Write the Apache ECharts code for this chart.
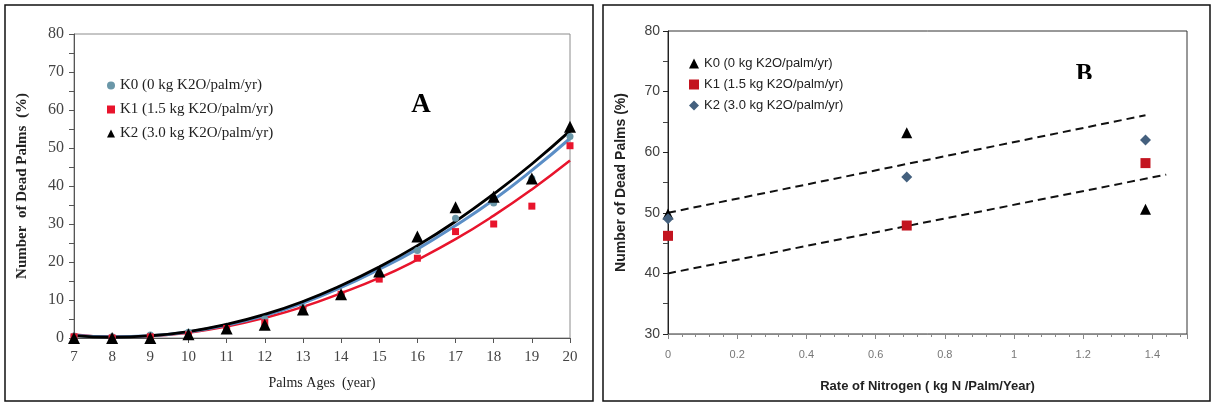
<!DOCTYPE html>
<html>
<head>
<meta charset="utf-8">
<script src="https://cdn.jsdelivr.net/npm/echarts@6/dist/echarts.min.js"></script>
<style>
  html, body { margin: 0; padding: 0; background: #fff; }
  #chart { width: 1215px; height: 407px; }
</style>
</head>
<body>
<div id="chart"></div>
<script>
// Panel A: palm ages vs dead palms (%)
var ages = [7, 8, 9, 10, 11, 12, 13, 14, 15, 16, 17, 18, 19, 20];
var k0A = [0.5, 0.3, 0.8, 1.5, 2.5, 5, 8, 11.5, 17, 23, 31.5, 35.5, 42, 53];
var k1A = [0.3, 0, 0.3, 0.8, 2.5, 4, 7.5, 11.5, 15.5, 21, 28, 30, 34.7, 50.6];
var k2A = [0, 0, 0, 1, 2.5, 3.5, 7.5, 11.5, 17.5, 26.7, 34.4, 37.2, 42, 55.6];
// trend curves at each age
var k0Curve = [0.7, 0.3, 0.6, 1.6, 3.4, 5.9, 9.2, 13.3, 18.1, 23.4, 29.6, 36.4, 44.1, 52.5];
var k1Curve = [0.9, 0.3, 0.5, 1.4, 3.0, 5.3, 8.2, 11.8, 15.8, 20.6, 26.0, 32.2, 39.1, 46.7];
var k2Curve = [0.6, 0.2, 0.6, 1.7, 3.6, 6.2, 9.6, 13.8, 18.7, 24.3, 30.7, 37.9, 45.8, 54.5];

// Panel B: rate of nitrogen vs dead palms (%)
var nRate = [0, 0.69, 1.38];
var k0B = [49.8, 63.2, 50.6];
var k1B = [46.2, 47.9, 58.2];
var k2B = [49.0, 55.9, 62.0];
var trendUpper = [[0, 50], [1.38, 66.1]];
var trendLower = [[0, 40], [1.44, 56.3]];

var names = ['K0 (0 kg K2O/palm/yr)', 'K1 (1.5 kg K2O/palm/yr)', 'K2 (3.0 kg K2O/palm/yr)'];
var namesB = names.map(function (n) { return n + ' '; });

function pairs(xs, ys) {
    return xs.map(function (x, i) { return [x, ys[i]]; });
}

var serif = '"Liberation Serif", "Times New Roman", serif';
var sans = '"Liberation Sans", Arial, sans-serif';

var chart = echarts.init(document.getElementById('chart'));
var option = {
    backgroundColor: '#fff',
    animation: false,
    grid: [
        { left: 74, top: 34, width: 496, height: 304, show: true, borderColor: '#8c8c8c', borderWidth: 1 },
        { left: 668, top: 31, width: 519, height: 303, show: true, borderColor: '#333', borderWidth: 1 }
    ],
    legend: [
        {
            data: names, orient: 'vertical', left: 102, top: 73,
            itemWidth: 8, itemHeight: 8, itemGap: 9,
            textStyle: { fontFamily: serif, fontSize: 15, color: '#222' }
        },
        {
            data: namesB, orient: 'vertical', left: 684, top: 52,
            itemWidth: 10, itemHeight: 10, itemGap: 8,
            textStyle: { fontFamily: sans, fontSize: 13, color: '#222' }
        }
    ],
    xAxis: [
        {
            gridIndex: 0, type: 'value', min: 7, max: 20, interval: 1,
            name: 'Palms Ages  (year)', nameLocation: 'middle', nameGap: 38,
            nameTextStyle: { fontFamily: serif, fontSize: 14, color: '#222' },
            axisLine: { lineStyle: { color: '#555', width: 1 } },
            axisTick: { length: 5, lineStyle: { color: '#555' } },
            axisLabel: { fontFamily: serif, fontSize: 15, color: '#444', margin: 12 },
            splitLine: { show: false }
        },
        {
            gridIndex: 1, type: 'value', min: 0, max: 1.5, interval: 0.2,
            name: 'Rate of Nitrogen ( kg N /Palm/Year)', nameLocation: 'middle', nameGap: 46,
            nameTextStyle: { fontFamily: sans, fontSize: 13, fontWeight: 'bold', color: '#222' },
            axisLine: { lineStyle: { color: '#888', width: 1 } },
            axisTick: { length: 5, lineStyle: { color: '#888' } },
            minorTick: { show: true, splitNumber: 5, length: 3, lineStyle: { color: '#888' } },
            axisLabel: { fontFamily: sans, fontSize: 11, color: '#777', margin: 15, showMaxLabel: false },
            splitLine: { show: false }
        }
    ],
    yAxis: [
        {
            gridIndex: 0, type: 'value', min: 0, max: 80, interval: 10,
            name: 'Number  of Dead Palms  (%)', nameLocation: 'middle', nameGap: 44,
            nameTextStyle: { fontFamily: serif, fontSize: 15, fontWeight: 'bold', color: '#222' },
            axisLine: { show: true, lineStyle: { color: '#555', width: 1 } },
            axisTick: { show: true, length: 5, lineStyle: { color: '#555' } },
            minorTick: { show: true, splitNumber: 2, length: 5, lineStyle: { color: '#555' } },
            axisLabel: { fontFamily: serif, fontSize: 16, color: '#444', margin: 10 },
            splitLine: { show: false }
        },
        {
            gridIndex: 1, type: 'value', min: 30, max: 80, interval: 10,
            name: 'Number of Dead Palms (%)', nameLocation: 'middle', nameGap: 40,
            nameTextStyle: { fontFamily: sans, fontSize: 14, fontWeight: 'bold', color: '#222' },
            axisLine: { show: true, lineStyle: { color: '#222', width: 1 } },
            axisTick: { show: true, length: 5, lineStyle: { color: '#222' } },
            minorTick: { show: true, splitNumber: 2, length: 5, lineStyle: { color: '#444' } },
            axisLabel: { fontFamily: sans, fontSize: 14, color: '#404040', margin: 8 },
            splitLine: { show: false }
        }
    ],
    graphic: [
        { type: 'rect', shape: { x: 5, y: 5, width: 588, height: 396 }, style: { fill: 'none', stroke: '#111', lineWidth: 1.5 } },
        { type: 'rect', shape: { x: 603, y: 5, width: 607, height: 396 }, style: { fill: 'none', stroke: '#111', lineWidth: 1.5 } },
        { type: 'text', x: 421, y: 105, style: { text: 'A', font: 'bold 27px ' + serif, fill: '#000', align: 'center', verticalAlign: 'middle' } },
        { type: 'text', x: 1084, y: 75, z: 10, style: { text: 'B', font: 'bold 25px ' + serif, fill: '#000', align: 'center', verticalAlign: 'middle' } },
        { type: 'rect', z: 11, shape: { x: 1070, y: 79, width: 30, height: 10 }, style: { fill: '#fff' } }
    ],
    series: [
        // panel A curves
        { type: 'line', xAxisIndex: 0, yAxisIndex: 0, data: pairs(ages, k1Curve), smooth: true, showSymbol: false, silent: true,
          lineStyle: { color: '#e8142c', width: 2.5 }, z: 2 },
        { type: 'line', xAxisIndex: 0, yAxisIndex: 0, data: pairs(ages, k0Curve), smooth: true, showSymbol: false, silent: true,
          lineStyle: { color: '#5b8ec6', width: 3 }, z: 3 },
        { type: 'line', xAxisIndex: 0, yAxisIndex: 0, data: pairs(ages, k2Curve), smooth: true, showSymbol: false, silent: true,
          lineStyle: { color: '#000', width: 2.8 }, z: 4 },
        // panel A points
        { name: names[0], type: 'scatter', xAxisIndex: 0, yAxisIndex: 0, data: pairs(ages, k0A),
          symbol: 'circle', symbolSize: 7, itemStyle: { color: '#6a97a8', opacity: 1 }, z: 5 },
        { name: names[1], type: 'scatter', xAxisIndex: 0, yAxisIndex: 0, data: pairs(ages, k1A),
          symbol: 'rect', symbolSize: 7, itemStyle: { color: '#e8142c', opacity: 1 }, z: 5 },
        { name: names[2], type: 'scatter', xAxisIndex: 0, yAxisIndex: 0, data: pairs(ages, k2A),
          symbol: 'triangle', symbolSize: 12, itemStyle: { color: '#000', opacity: 1 }, z: 6 },
        // panel B trend lines
        { type: 'line', xAxisIndex: 1, yAxisIndex: 1, data: trendUpper, showSymbol: false, silent: true,
          lineStyle: { color: '#111', width: 2, type: [8, 5] }, z: 2 },
        { type: 'line', xAxisIndex: 1, yAxisIndex: 1, data: trendLower, showSymbol: false, silent: true,
          lineStyle: { color: '#111', width: 2, type: [8, 5] }, z: 2 },
        // panel B points
        { name: namesB[0], type: 'scatter', xAxisIndex: 1, yAxisIndex: 1, data: pairs(nRate, k0B),
          symbol: 'triangle', symbolSize: 11, itemStyle: { color: '#000', opacity: 1 }, z: 4 },
        { name: namesB[1], type: 'scatter', xAxisIndex: 1, yAxisIndex: 1, data: pairs(nRate, k1B),
          symbol: 'rect', symbolSize: 10, itemStyle: { color: '#c3141f', opacity: 1 }, z: 5 },
        { name: namesB[2], type: 'scatter', xAxisIndex: 1, yAxisIndex: 1, data: pairs(nRate, k2B),
          symbol: 'diamond', symbolSize: 11, itemStyle: { color: '#44607e', opacity: 1 }, z: 5 }
    ]
};
window.onresize = chart.resize;
chart.setOption(option);
</script>
</body>
</html>
